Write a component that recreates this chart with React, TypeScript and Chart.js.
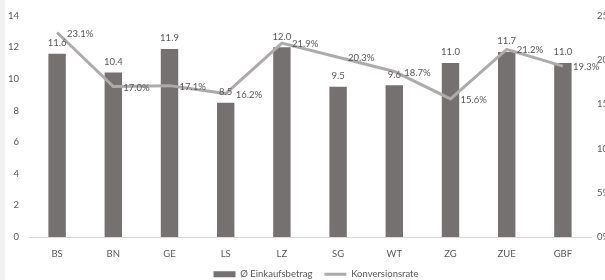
import React, { useEffect, useRef } from "react";
import { Chart, registerables } from "chart.js";

Chart.register(...registerables);

const categories = ["BS", "BN", "GE", "LS", "LZ", "SG", "WT", "ZG", "ZUE", "GBF"];
const einkaufsbetrag = [11.6, 10.4, 11.9, 8.5, 12.0, 9.5, 9.6, 11.0, 11.7, 11.0];
const konversionsrate = [23.1, 17.0, 17.1, 16.2, 21.9, 20.3, 18.7, 15.6, 21.2, 19.3];
const leftTicks = [0, 2, 4, 6, 8, 10, 12, 14];
const rightTicks = [0, 5, 10, 15, 20, 25];

const FONT = "Lato, 'Liberation Sans', sans-serif";
const TEXT = "#595959";
const BAR = "#767171";
const LINE = "#AFABAB";

const labelsPlugin = {
  id: "valueLabels",
  afterDatasetsDraw(chart: any) {
    const ctx = chart.ctx;
    ctx.save();
    ctx.font = `9.5px ${FONT}`;
    ctx.fillStyle = TEXT;
    const barMeta = chart.getDatasetMeta(0);
    barMeta.data.forEach((el: any, i: number) => {
      ctx.textAlign = "center";
      ctx.textBaseline = "bottom";
      ctx.fillText(einkaufsbetrag[i].toFixed(1), el.x, el.y - 6);
    });
    const lineMeta = chart.getDatasetMeta(1);
    lineMeta.data.forEach((el: any, i: number) => {
      ctx.textAlign = "left";
      ctx.textBaseline = "middle";
      ctx.fillText(konversionsrate[i].toFixed(1) + "%", el.x + 10, el.y + 1);
    });
    ctx.restore();
  },
};

const bgPlugin = {
  id: "bg",
  beforeDraw(chart: any) {
    const ctx = chart.ctx;
    ctx.save();
    ctx.fillStyle = "#ffffff";
    ctx.fillRect(0, 0, chart.width, chart.height);
    ctx.fillStyle = "#f2f2f2";
    ctx.fillRect(0, 0, 5, chart.height);
    ctx.restore();
  },
};

export default function App() {
  const ref = useRef<HTMLCanvasElement | null>(null);
  useEffect(() => {
    if (!ref.current) return;
    const chart = new Chart(ref.current, {
      type: "bar",
      data: {
        labels: categories,
        datasets: [
          {
            type: "bar",
            label: "Ø Einkaufsbetrag",
            data: einkaufsbetrag,
            backgroundColor: BAR,
            borderWidth: 0,
            yAxisID: "y",
            barPercentage: 0.62,
            categoryPercentage: 0.5,
            order: 2,
          },
          {
            type: "line",
            label: "Konversionsrate",
            data: konversionsrate,
            borderColor: LINE,
            backgroundColor: LINE,
            borderWidth: 3,
            pointRadius: 0,
            tension: 0,
            yAxisID: "y1",
            order: 1,
          } as any,
        ],
      },
      options: {
        responsive: false,
        animation: false,
        layout: { padding: { left: 0, right: -27, top: 14, bottom: -9 } },
        plugins: {
          tooltip: { enabled: false },
          legend: {
            position: "bottom",
            labels: {
              usePointStyle: true,
              pointStyleWidth: 22,
              boxHeight: 6,
              padding: 12,
              color: TEXT,
              font: { family: FONT, size: 9.5 },
              generateLabels: (c: any) =>
                c.data.datasets.map((ds: any, i: number) => ({
                  text: ds.label,
                  fillStyle: i === 0 ? BAR : LINE,
                  strokeStyle: i === 0 ? BAR : LINE,
                  lineWidth: i === 0 ? 0 : 3,
                  pointStyle: i === 0 ? "rect" : "line",
                  fontColor: TEXT,
                  datasetIndex: i,
                  hidden: false,
                })),
            },
          },
        },
        scales: {
          x: {
            grid: { display: false, drawTicks: false },
            border: { display: true, color: "#d9d9d9", width: 1 },
            ticks: { color: TEXT, font: { family: FONT, size: 9.5 }, padding: 11 },
            afterFit: (s: any) => {
              s.height = 20.5;
            },
          },
          y: {
            position: "left",
            min: 0,
            max: 14,
            afterBuildTicks: (s: any) => {
              s.ticks = leftTicks.map((v) => ({ value: v }));
            },
            grid: { display: false, drawTicks: false },
            border: { display: false },
            ticks: { color: TEXT, font: { family: FONT, size: 9.5 }, padding: 10 },
            afterFit: (s: any) => {
              s.width = 29;
            },
          },
          y1: {
            position: "right",
            min: 0,
            max: 25,
            afterBuildTicks: (s: any) => {
              s.ticks = rightTicks.map((v) => ({ value: v }));
            },
            grid: { display: false, drawTicks: false },
            border: { display: false },
            ticks: {
              color: TEXT,
              font: { family: FONT, size: 9.5 },
              padding: 6,
              callback: (v: any) => v + "%",
            },
            afterFit: (s: any) => {
              s.width = 41;
            },
          },
        },
      },
      plugins: [bgPlugin, labelsPlugin],
    });
    return () => chart.destroy();
  }, []);
  return (
    <div style={{ position: "fixed", left: 0, top: 0, width: 605, height: 280 }}>
      <canvas ref={ref} width={605} height={280} />
    </div>
  );
}
